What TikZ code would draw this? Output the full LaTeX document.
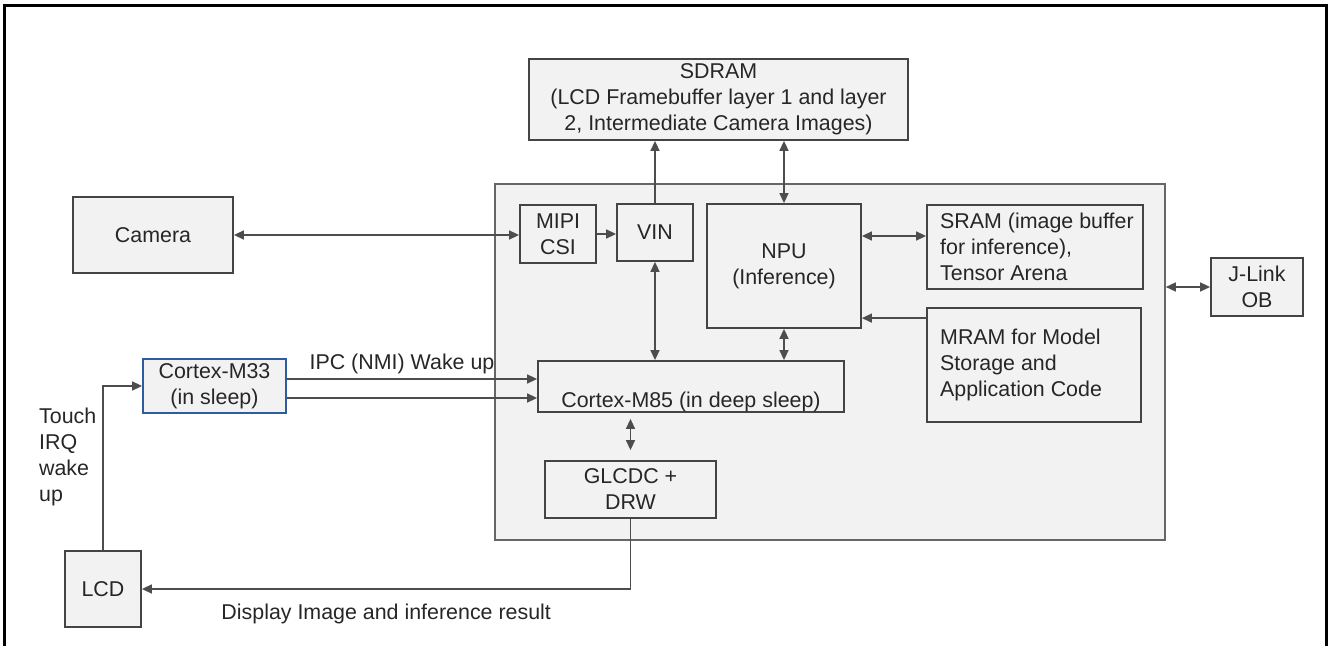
\documentclass[tikz,border=0pt]{standalone}
\usepackage{fontspec}
\setmainfont{Liberation Sans}
\usetikzlibrary{arrows.meta}
\definecolor{boxfill}{HTML}{F2F2F2}
\definecolor{boxline}{HTML}{444444}
\definecolor{wire}{HTML}{4D4D4D}
\definecolor{chipline}{HTML}{666666}
\definecolor{cmblue}{HTML}{2E5C9E}
\definecolor{txt}{HTML}{262626}

\begin{document}
\begin{tikzpicture}[x=0.5pt, y=-0.5pt,
  font=\fontsize{10.7}{13}\selectfont, text=txt,
  blk/.style={draw=boxline, fill=boxfill, line width=0.9pt, align=center, inner sep=2pt},
  chipbox/.style={draw=chipline, fill=boxfill, line width=0.8pt},
  link/.style={draw=wire, line width=0.75pt, -{Triangle[length=5pt,width=4.5pt]}},
  dlink/.style={link, {Triangle[length=5pt,width=4.5pt]}-{Triangle[length=5pt,width=4.5pt]}}]
  \useasboundingbox (0,0) rectangle (1328,646);
  \draw[line width=1.5pt] (4,670) -- (4,6) -- (1326,6) -- (1326,670);

  % chip and its blocks
  \node (chip) [chipbox, minimum width=335pt, minimum height=178pt] at (830,362) {};
  \node (sdram) [blk, minimum width=189.5pt, minimum height=40.5pt] at (718.5,99.5) {SDRAM\\(LCD Framebuffer layer 1 and layer\\2, Intermediate Camera Images)};
  \node (camera) [blk, minimum width=80pt, minimum height=38pt] at (153,235) {Camera};
  \node (mipi) [blk, minimum width=38pt, minimum height=29pt] at (558,234) {MIPI\\CSI};
  \node (vin) [blk, minimum width=38pt, minimum height=28.5pt] at (655,232.5) {VIN};
  \node (npu) [blk, minimum width=77pt, minimum height=62pt] at (784,266) {NPU\\(Inference)};
  \node (sram) [blk, minimum width=108pt, minimum height=42pt,
    label={[anchor=west, align=left, xshift=3.5pt]west:{SRAM (image buffer\\for inference),\\Tensor Arena}}] at (1035,247) {};
  \node (mram) [blk, minimum width=107pt, minimum height=57pt,
    label={[anchor=west, align=left, xshift=3.5pt]west:{MRAM for Model\\Storage and\\Application Code}}] at (1034,365) {};
  \node (jlink) [blk, minimum width=46pt, minimum height=29pt] at (1257,287) {J-Link\\OB};
  \node (m85) [blk, minimum width=153pt, minimum height=25.5pt,
    label={[anchor=base, yshift=2.5pt, inner sep=0pt]south:{Cortex-M85 (in deep sleep)}}] at (691,386.5) {};
  \node (glcdc) [blk, minimum width=85.5pt, minimum height=28.5pt] at (630.5,489.5) {GLCDC +\\DRW};
  \node (m33) [blk, draw=cmblue, minimum width=71.5pt, minimum height=26pt] at (214.5,386) {Cortex-M33\\(in sleep)};
  \node (lcd) [blk, minimum width=38pt, minimum height=38pt] at (103,589) {LCD};

  % connections
  \draw[dlink] (camera.east) -- (camera.east -| mipi.west);
  \draw[link] (mipi.east) -- (mipi.east -| vin.west);
  \draw[link] (vin.north) -- (vin.north |- sdram.south);
  \draw[dlink] (npu.north) -- (npu.north |- sdram.south);
  \draw[dlink] (vin.south) -- (vin.south |- m85.north);
  \draw[dlink] (npu.south) -- (npu.south |- m85.north);
  \draw[dlink] ([yshift=5.5pt]sram.west) -- ([yshift=5.5pt]sram.west -| npu.east);
  \draw[link] ([yshift=-5.5pt]mram.north west) -- ([yshift=-5.5pt]mram.north west -| npu.east);
  \draw[dlink] (jlink.west) -- (jlink.west -| chip.east);
  \draw[link] ([yshift=3.5pt]m33.east) -- ([yshift=3.5pt]m33.east -| m85.west)
    node[pos=0.46, above, inner sep=2pt] {IPC (NMI) Wake up};
  \draw[link] ([yshift=-6pt]m33.east) -- ([yshift=-6pt]m33.east -| m85.west);
  \draw[dlink, shorten <=3pt, shorten >=5pt] (glcdc.north |- m85.south) -- (glcdc.north);
  \draw[link] (glcdc.south) |- (lcd.east)
    node[pos=0.75, below, yshift=-4pt] {Display Image and inference result};
  \draw[link] (lcd.north) |- (m33.west)
    node[pos=0.285, left, align=left, inner sep=3pt] {Touch\\IRQ\\wake\\up};
\end{tikzpicture}
\end{document}
